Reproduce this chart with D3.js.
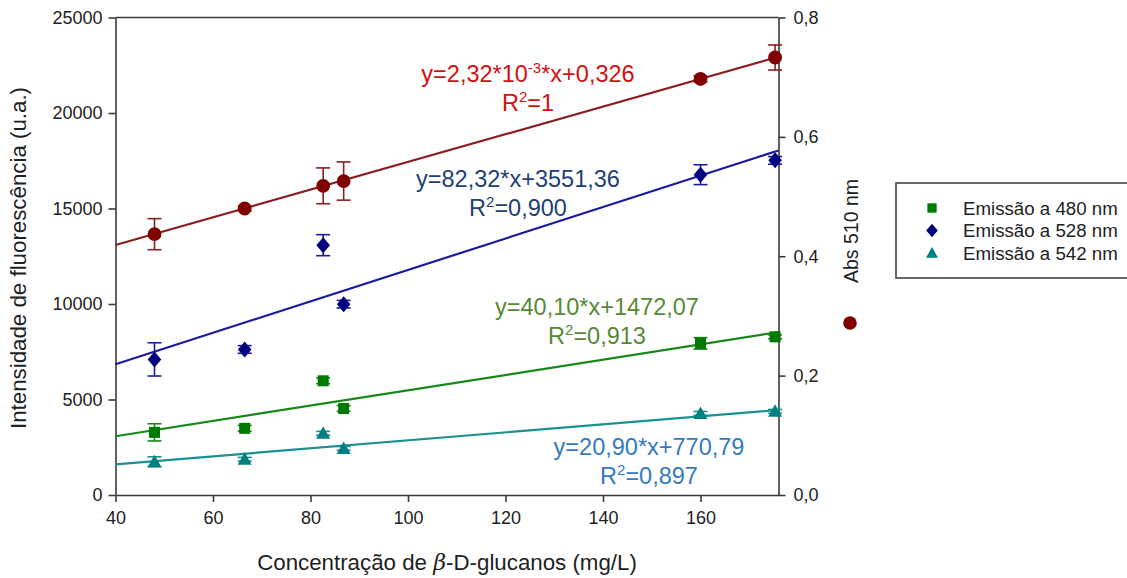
<!DOCTYPE html>
<html>
<head>
<meta charset="utf-8">
<script src="https://cdn.jsdelivr.net/npm/d3@7"></script>
<style>
  body { margin: 0; background: #fff; }
  svg { font-family: "Liberation Sans", Arial, sans-serif; }
</style>
</head>
<body>
<svg id="chart" width="1127" height="578"></svg>
<script>
// concentration of beta-D-glucans (mg/L)
let conc = [48, 66.5, 82.6, 86.8, 160, 175.3]

// absorbance at 510 nm (right axis)
let abs510 = [0.437, 0.480, 0.518, 0.526, 0.697, 0.733]
let abs510Err = [0.026, 0.004, 0.030, 0.032, 0.005, 0.021]

// fluorescence emission (left axis)
let em480 = [3280, 3490, 5980, 4530, 7940, 8280]
let em480Err = [450, 150, 150, 150, 300, 100]
let em528 = [7100, 7620, 13080, 9990, 16770, 17520]
let em528Err = [870, 200, 550, 200, 520, 200]
let em542 = [1740, 1870, 3230, 2440, 4270, 4380]
let em542Err = [260, 100, 100, 100, 100, 100]

// fitted lines: [slope, intercept]
let fitAbs = [2.32e-3, 0.326]
let fit480 = [40.10, 1472.07]
let fit528 = [82.32, 3551.36]
let fit542 = [20.90, 770.79]

let xTicks = [40, 60, 80, 100, 120, 140, 160]
let yLeftTicks = [0, 5000, 10000, 15000, 20000, 25000]
let yRightTicks = [0, 0.2, 0.4, 0.6, 0.8]
let legendLabels = ["Emissão a 480 nm", "Emissão a 528 nm", "Emissão a 542 nm"]

let svg = d3.select("#chart")

let plotLeft = 115.5, plotRight = 778.5, plotTop = 17.5, plotBottom = 495

let x = d3.scaleLinear().domain([40, 176]).range([plotLeft, plotRight])
let yL = d3.scaleLinear().domain([0, 25000]).range([plotBottom, plotTop])
let yR = d3.scaleLinear().domain([0, 0.8]).range([plotBottom, plotTop])

let axisColor = "#3a3a3a"
let comma = v => d3.format(".1f")(v).replace(".", ",")

// axes
let gx = svg.append("g").attr("transform", `translate(0,${plotBottom})`)
  .call(d3.axisBottom(x).tickValues(xTicks).tickSize(7).tickSizeOuter(0).tickPadding(9))
let gl = svg.append("g").attr("transform", `translate(${plotLeft},0)`)
  .call(d3.axisLeft(yL).tickValues(yLeftTicks).tickFormat(d3.format("d")).tickSize(7).tickSizeOuter(0).tickPadding(6))
let gr = svg.append("g").attr("transform", `translate(${plotRight},0)`)
  .call(d3.axisRight(yR).tickValues(yRightTicks).tickFormat(comma).tickSize(7).tickSizeOuter(0).tickPadding(8))

for (let g of [gx, gl, gr]) {
  g.selectAll("path,line").attr("stroke", axisColor).attr("stroke-width", 1.6)
  g.selectAll("text").attr("fill", "#222").style("font-size", "18px").style("font-family", "Liberation Sans, Arial")
}

// top frame line
svg.append("line")
  .attr("x1", plotLeft).attr("x2", plotRight)
  .attr("y1", plotTop).attr("y2", plotTop)
  .attr("stroke", axisColor).attr("stroke-width", 1.6)

let series = [
  { vals: em542, err: em542Err, fit: fit542, y: yL, color: "#008080", line: "#1a9090", shape: "triangle" },
  { vals: em480, err: em480Err, fit: fit480, y: yL, color: "#007a00", line: "#16881a", shape: "square" },
  { vals: em528, err: em528Err, fit: fit528, y: yL, color: "#00007f", line: "#1c1ca0", shape: "diamond" },
  { vals: abs510, err: abs510Err, fit: fitAbs, y: yR, color: "#800000", line: "#8b1e1e", shape: "circle" }
]

let shapePath = function(shape) {
  if (shape === "square") return "M-5.5,-5.5H5.5V5.5H-5.5Z"
  if (shape === "diamond") return "M0,-8L6.8,0L0,8L-6.8,0Z"
  if (shape === "triangle") return "M0,-7L7,5.5H-7Z"
  return d3.symbol(d3.symbolCircle, 150)()
}

// fitted lines
for (let s of series) {
  let xs = x.domain()
  svg.append("line")
    .attr("x1", x(xs[0])).attr("y1", s.y(s.fit[0] * xs[0] + s.fit[1]))
    .attr("x2", x(xs[1])).attr("y2", s.y(s.fit[0] * xs[1] + s.fit[1]))
    .attr("stroke", s.line).attr("stroke-width", 2.2)
}

// error bars + points
for (let s of series) {
  let g = svg.append("g")
  let pts = conc.map((c, i) => ({ c: c, v: s.vals[i], e: s.err[i] }))

  g.selectAll(".bar").data(pts).join("line").attr("class", "bar")
    .attr("x1", d => x(d.c)).attr("x2", d => x(d.c))
    .attr("y1", d => s.y(d.v - d.e)).attr("y2", d => s.y(d.v + d.e))
    .attr("stroke", s.line).attr("stroke-width", 1.6)

  for (let sign of [-1, 1]) {
    g.selectAll(".cap" + (sign + 1)).data(pts).join("line").attr("class", "cap" + (sign + 1))
      .attr("x1", d => x(d.c) - 7).attr("x2", d => x(d.c) + 7)
      .attr("y1", d => s.y(d.v + sign * d.e)).attr("y2", d => s.y(d.v + sign * d.e))
      .attr("stroke", s.line).attr("stroke-width", 1.6)
  }

  g.selectAll(".pt").data(pts).join("path").attr("class", "pt")
    .attr("d", shapePath(s.shape))
    .attr("transform", d => `translate(${x(d.c)},${s.y(d.v)})`)
    .attr("fill", s.color)
}

// equations
let eqs = [
  { cx: 528, y: 82, color: "#d40f0f", pre: "y=2,32*10", sup: "-3", post: "*x+0,326", r2: "=1" },
  { cx: 518, y: 187, color: "#213f74", pre: "y=82,32*x+3551,36", sup: null, post: "", r2: "=0,900" },
  { cx: 597, y: 315, color: "#568a34", pre: "y=40,10*x+1472,07", sup: null, post: "", r2: "=0,913" },
  { cx: 649, y: 455, color: "#3579c2", pre: "y=20,90*x+770,79", sup: null, post: "", r2: "=0,897" }
]

for (let e of eqs) {
  let t = svg.append("text")
    .attr("x", e.cx).attr("y", e.y)
    .attr("text-anchor", "middle")
    .attr("fill", e.color)
    .style("font-size", "23.5px")
  t.append("tspan").text(e.pre)
  if (e.sup) {
    t.append("tspan").attr("dy", -9).style("font-size", "15px").text(e.sup)
    t.append("tspan").attr("dy", 9).text(e.post)
  }

  let r = svg.append("text")
    .attr("x", e.cx).attr("y", e.y + 29)
    .attr("text-anchor", "middle")
    .attr("fill", e.color)
    .style("font-size", "23.5px")
  r.append("tspan").text("R")
  r.append("tspan").attr("dy", -9).style("font-size", "15px").text("2")
  r.append("tspan").attr("dy", 9).text(e.r2)
}

// axis titles
svg.append("text")
  .attr("x", 447).attr("y", 570)
  .attr("text-anchor", "middle")
  .attr("fill", "#222")
  .style("font-size", "22.3px")
  .html('Concentração de <tspan font-family="DejaVu Serif" font-style="italic">β</tspan>-D-glucanos (mg/L)')

svg.append("text")
  .attr("transform", "translate(26,258) rotate(-90)")
  .attr("text-anchor", "middle")
  .attr("fill", "#222")
  .style("font-size", "22.3px")
  .text("Intensidade de fluorescência (u.a.)")

svg.append("text")
  .attr("transform", "translate(858,231) rotate(-90)")
  .attr("text-anchor", "middle")
  .attr("fill", "#222")
  .style("font-size", "19.5px")
  .text("Abs 510 nm")

svg.append("circle")
  .attr("cx", 850).attr("cy", 323).attr("r", 6.8)
  .attr("fill", "#800000")

// legend
let legend = svg.append("g").attr("transform", "translate(896,183)")
legend.append("rect")
  .attr("width", 250).attr("height", 95)
  .attr("fill", "none").attr("stroke", "#444").attr("stroke-width", 1.6)

let legSeries = [series[1], series[2], series[0]]
legSeries.forEach((s, i) => {
  let row = legend.append("g").attr("transform", `translate(36,${25 + i * 22.5})`)
  row.append("path").attr("d", shapePath(s.shape)).attr("fill", s.color)
    .attr("transform", "scale(0.85)")
  row.append("text")
    .attr("x", 31).attr("y", 0)
    .attr("dy", "0.35em")
    .attr("fill", "#222")
    .style("font-size", "18.7px")
    .text(legendLabels[i])
})
</script>
</body>
</html>
